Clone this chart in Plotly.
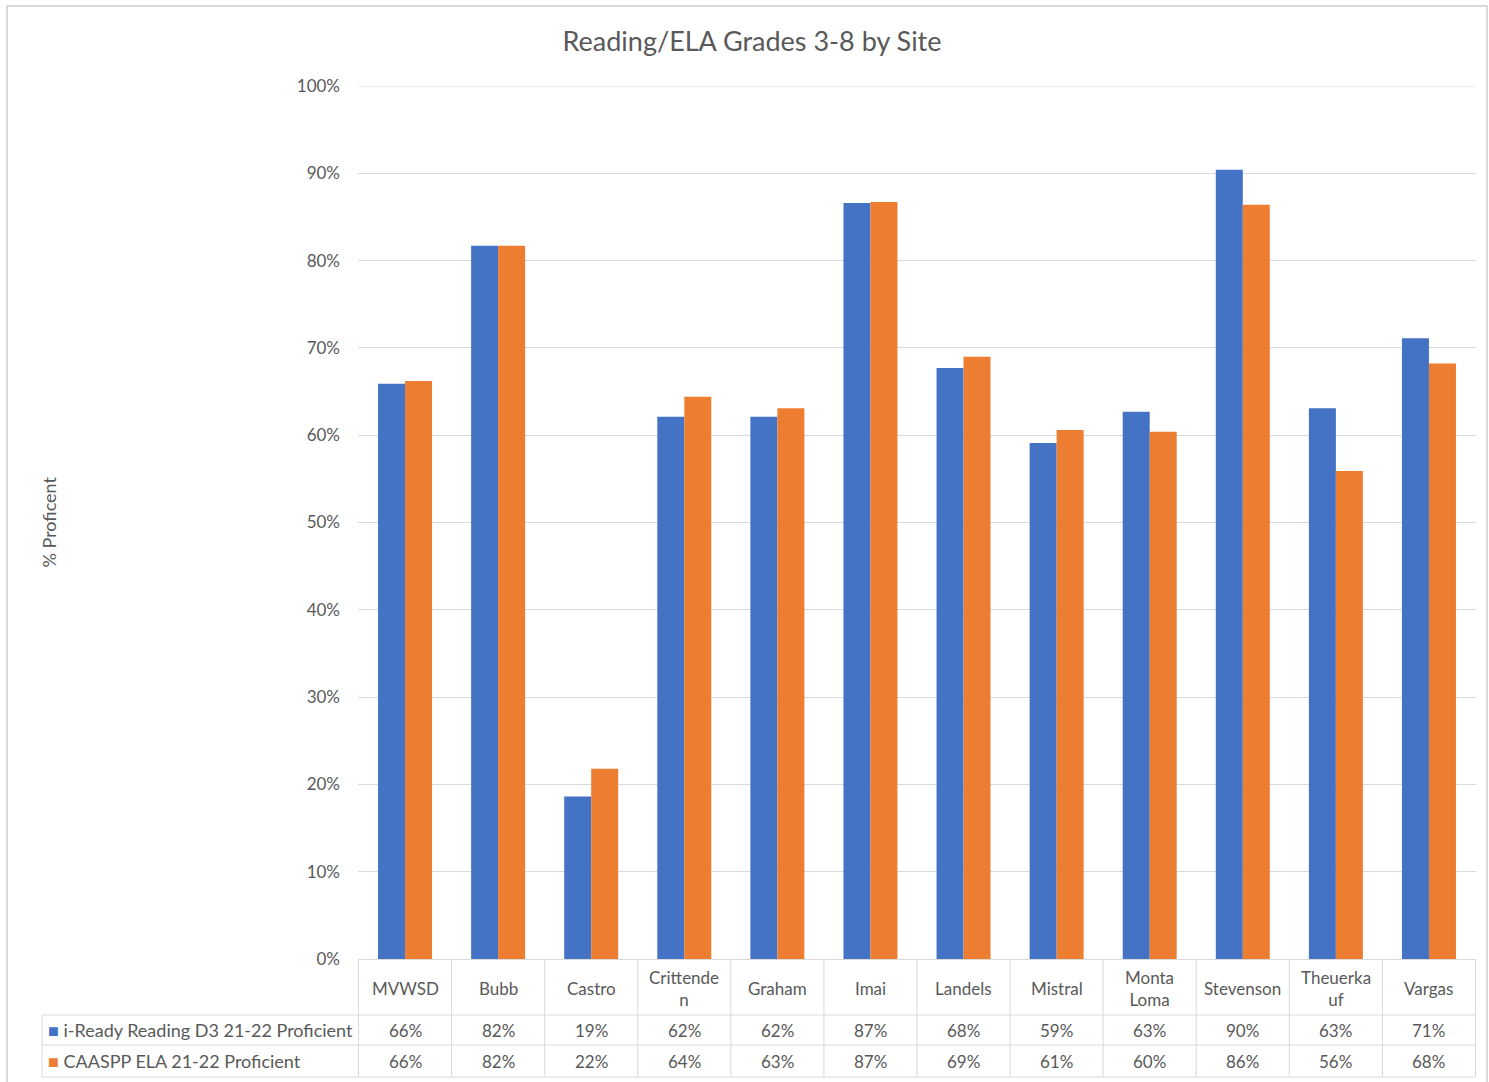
import plotly.graph_objects as go

sites = ["MVWSD", "Bubb", "Castro", "Crittenden", "Graham", "Imai", "Landels",
         "Mistral", "Monta Loma", "Stevenson", "Theuerkauf", "Vargas"]
header_labels = ["MVWSD", "Bubb", "Castro", "Crittende<br>n", "Graham", "Imai", "Landels",
                 "Mistral", "Monta<br>Loma", "Stevenson", "Theuerka<br>uf", "Vargas"]
iready = [65.9, 81.7, 18.6, 62.1, 62.1, 86.6, 67.7, 59.1, 62.7, 90.4, 63.1, 71.1]
caaspp = [66.2, 81.7, 21.8, 64.4, 63.1, 86.7, 69.0, 60.6, 60.4, 86.4, 55.9, 68.2]
series_names = ["i-Ready Reading D3 21-22 Proficient", "CAASPP ELA 21-22 Proficient"]
colors = ["#4472C4", "#ED7D31"]
y_ticks = list(range(0, 101, 10))

W, H = 1489, 1082
L, R, T, B = 358, 1476, 86, 959
FONT = "Lato"
GRAY = "#595959"
LINE = "#d9d9d9"
TFS = 17


def py(p):
    return (B - p) / (B - T)


def px(p):
    return (p - L) / (R - L)


fig = go.Figure()
for name, vals, col in zip(series_names, [iready, caaspp], colors):
    fig.add_trace(go.Bar(x=sites, y=vals, name=name, marker_color=col,
                         marker_line_width=0, showlegend=False))

shapes = []
annotations = []
n = len(sites)
# chart border
shapes.append(dict(type="rect", xref="paper", yref="paper", x0=px(7), x1=px(1487),
                   y0=py(1090), y1=py(6), line=dict(color="#d9d9d9", width=2)))
# top gridline (100%)
shapes.append(dict(type="line", xref="paper", yref="y", x0=0, x1=1, y0=100, y1=100,
                   line=dict(color=LINE, width=1)))
# table vertical lines
for i in range(n + 1):
    shapes.append(dict(type="line", xref="x", yref="paper", x0=i - 0.5, x1=i - 0.5,
                       y0=py(959), y1=py(1077), line=dict(color=LINE, width=1)))
# left edge of table legend column
shapes.append(dict(type="line", xref="paper", yref="paper", x0=px(42), x1=px(42),
                   y0=py(1015), y1=py(1077), line=dict(color=LINE, width=1)))
# horizontal lines
for yy in [1015, 1045, 1077]:
    shapes.append(dict(type="line", xref="paper", yref="paper", x0=px(42), x1=px(1476),
                       y0=py(yy), y1=py(yy), line=dict(color=LINE, width=1)))

# header row
for s, lab in zip(sites, header_labels):
    annotations.append(dict(x=s, xref="x", y=py(988), yref="paper", text=lab,
                            showarrow=False, yanchor="middle", xanchor="center",
                            font=dict(family=FONT, size=TFS, color=GRAY)))
# value rows
for vals, name, col, yc in zip([iready, caaspp], series_names, colors, [1030, 1061]):
    for s, v in zip(sites, vals):
        annotations.append(dict(x=s, xref="x", y=py(yc), yref="paper", text=f"{round(v)}%",
                                showarrow=False, yanchor="middle", xanchor="center",
                                font=dict(family=FONT, size=TFS, color=GRAY)))
    annotations.append(dict(x=px(46), xref="paper", y=py(yc), yref="paper",
                            text=f'<span style="color:{col}">■</span> {name}',
                            showarrow=False, yanchor="middle", xanchor="left",
                            font=dict(family=FONT, size=TFS + 1, color=GRAY)))

# y axis title
annotations.append(dict(x=px(48), xref="paper", y=0.5, yref="paper", text="% Proficent",
                        textangle=-90, showarrow=False, xanchor="center", yanchor="middle",
                        font=dict(family=FONT, size=18, color=GRAY)))

fig.update_layout(
    width=W, height=H,
    margin=dict(l=L, r=W - R, t=T, b=H - B, pad=0),
    paper_bgcolor="white", plot_bgcolor="white",
    title=dict(text="Reading/ELA Grades 3-8 by Site", x=752 / W, xref="container",
               y=1 - 42 / H, yref="container", xanchor="center", yanchor="middle",
               font=dict(family=FONT, size=27, color=GRAY)),
    barmode="group", bargap=0.42, bargroupgap=0,
    xaxis=dict(showticklabels=False, showgrid=False, showline=True,
               linecolor=LINE, linewidth=1, ticks="", zeroline=False),
    yaxis=dict(range=[0, 100], tickvals=y_ticks, ticktext=[f"{t}%" for t in y_ticks],
               showgrid=True, gridcolor=LINE, gridwidth=1, zeroline=False,
               showline=False, ticks="", ticklabelstandoff=17,
               tickfont=dict(family=FONT, size=17, color=GRAY)),
    shapes=shapes, annotations=annotations,
    font=dict(family=FONT, color=GRAY),
)

fig.write_html("out.html", config={"displayModeBar": False},
               post_script="document.body.style.margin='0';")
